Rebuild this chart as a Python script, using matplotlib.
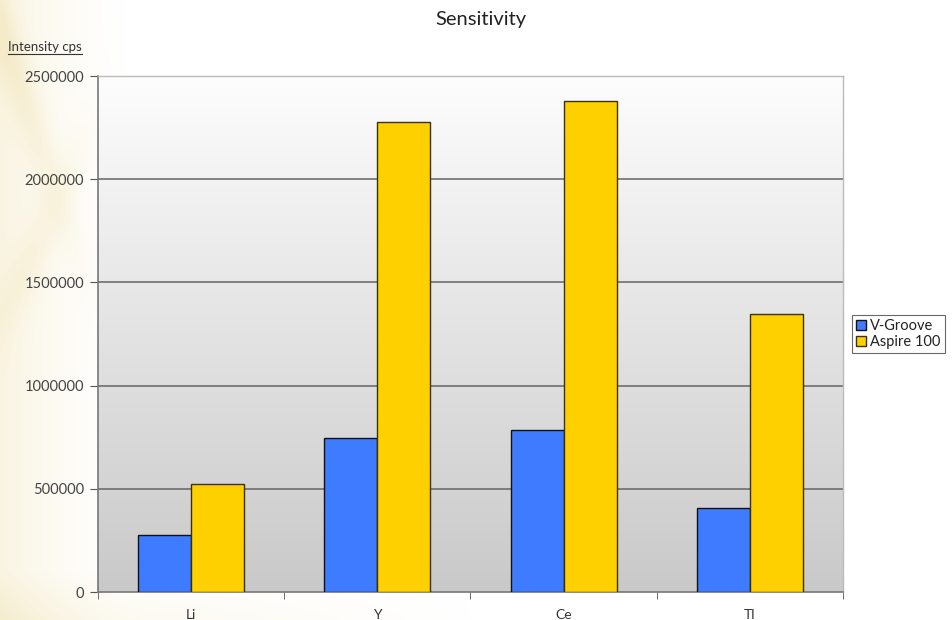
import matplotlib
matplotlib.use("Agg")
import matplotlib.pyplot as plt
import numpy as np
from matplotlib.lines import Line2D

# data
elements = ['Li', 'Y', 'Ce', 'Tl']
v_groove = [276000, 746000, 785000, 407000]
aspire_100 = [523000, 2277000, 2379000, 1347000]
series_names = ['V-Groove', 'Aspire 100']
y_ticks = [0, 500000, 1000000, 1500000, 2000000, 2500000]

plt.rcParams['font.family'] = ['Lato', 'DejaVu Sans']

fig = plt.figure(figsize=(9.53, 6.2), dpi=100)
fig.patch.set_facecolor('white')

# decorative cream backdrop on the left edge of the slide
bg = fig.add_axes([0, 0, 1, 1], zorder=-5)
bg.axis('off')
xx, yy = np.meshgrid(np.linspace(0, 953, 480), np.linspace(0, 620, 310))
fade = np.clip(1 - xx / 130.0, 0, 1) ** 1.5
top = 1 / (1 + np.exp((yy - 300) / 30.0))
band1 = np.exp(-((xx - 0.35 * yy + 10) / 18.0) ** 2) * top
band2 = np.exp(-((xx + 0.45 * yy - 150) / 20.0) ** 2) * top
alpha = np.clip(0.3 * fade + 0.3 * (band1 + band2) * fade, 0, 0.55)
alpha += 0.2 * np.clip(1 - xx / 480.0, 0, 1) * np.clip((yy - 570) / 50.0, 0, 1)
rgba = np.zeros(xx.shape + (4,))
rgba[..., 0] = 0.93
rgba[..., 1] = 0.86
rgba[..., 2] = 0.62
rgba[..., 3] = np.clip(alpha, 0, 1)
bg.imshow(rgba, extent=[0, 1, 0, 1], aspect='auto', origin='upper')
bg.set_xlim(0, 1)
bg.set_ylim(0, 1)

ax = fig.add_axes([98 / 953, 28 / 620, 745 / 953, 516 / 620])
ax.set_facecolor('none')

# vertical grey gradient behind the bars
grad = np.linspace(0, 1, 256).reshape(-1, 1)
ax.imshow(grad, cmap=matplotlib.colors.LinearSegmentedColormap.from_list(
    'bg', ['#c9c9c9', '#fdfdfd']), extent=[-0.5, 3.5, 0, 2500000],
    origin='lower', aspect='auto', zorder=0)

x = np.arange(len(elements))
w = 0.285
ax.bar(x - w / 2, v_groove, w, color='#3f7bff', edgecolor='#111111',
       linewidth=1.0, label=series_names[0], zorder=3)
ax.bar(x + w / 2, aspire_100, w, color='#ffd000', edgecolor='#3a3000',
       linewidth=1.0, label=series_names[1], zorder=3)

ax.set_xlim(-0.5, 3.5)
ax.set_ylim(0, 2500000)
ax.set_yticks(y_ticks)
ax.set_yticklabels([str(t) for t in y_ticks])
for t in y_ticks[1:]:
    ax.axhline(t, color='#6e6e6e', linewidth=1.2, zorder=2)

ax.set_xticks(x)
ax.set_xticklabels(elements)
ax.set_xticks(np.arange(-0.5, 3.6, 1), minor=True)
ax.tick_params(axis='x', which='major', length=0, pad=12, labelsize=10,
               labelcolor='#333333')
ax.tick_params(axis='x', which='minor', length=5, color='#555555')
ax.tick_params(axis='y', length=6, color='#555555', labelsize=10.5,
               labelcolor='#444444', pad=4)

for side in ['left', 'bottom']:
    ax.spines[side].set_color('#777777')
    ax.spines[side].set_linewidth(1.2)
for side in ['top', 'right']:
    ax.spines[side].set_color('#bbbbbb')
    ax.spines[side].set_linewidth(1.0)

leg = ax.legend(loc='center left', bbox_to_anchor=(1.012, 0.5),
                frameon=True, fancybox=False, fontsize=10.5,
                handlelength=0.65, handleheight=0.65, handletextpad=0.3,
                borderpad=0.3, labelspacing=0.15, borderaxespad=0)
leg.get_frame().set_edgecolor('#444444')
leg.get_frame().set_linewidth(0.8)
leg.get_frame().set_facecolor('white')
for t in leg.get_texts():
    t.set_color('#222222')

fig.text(0.505, 1 - 20 / 620, 'Sensitivity', ha='center', va='center',
         fontsize=14.5, color='#222222')

ylab = fig.text(8 / 953, 1 - 47 / 620, 'Intensity cps', ha='left',
                va='center', fontsize=9.5, color='#333333')
fig.canvas.draw()
bb = ylab.get_window_extent().transformed(fig.transFigure.inverted())
fig.add_artist(Line2D([bb.x0, bb.x1], [bb.y0 - 0.002, bb.y0 - 0.002],
                      transform=fig.transFigure, color='#333333',
                      linewidth=0.8))

fig.savefig('out.png', dpi=100)
